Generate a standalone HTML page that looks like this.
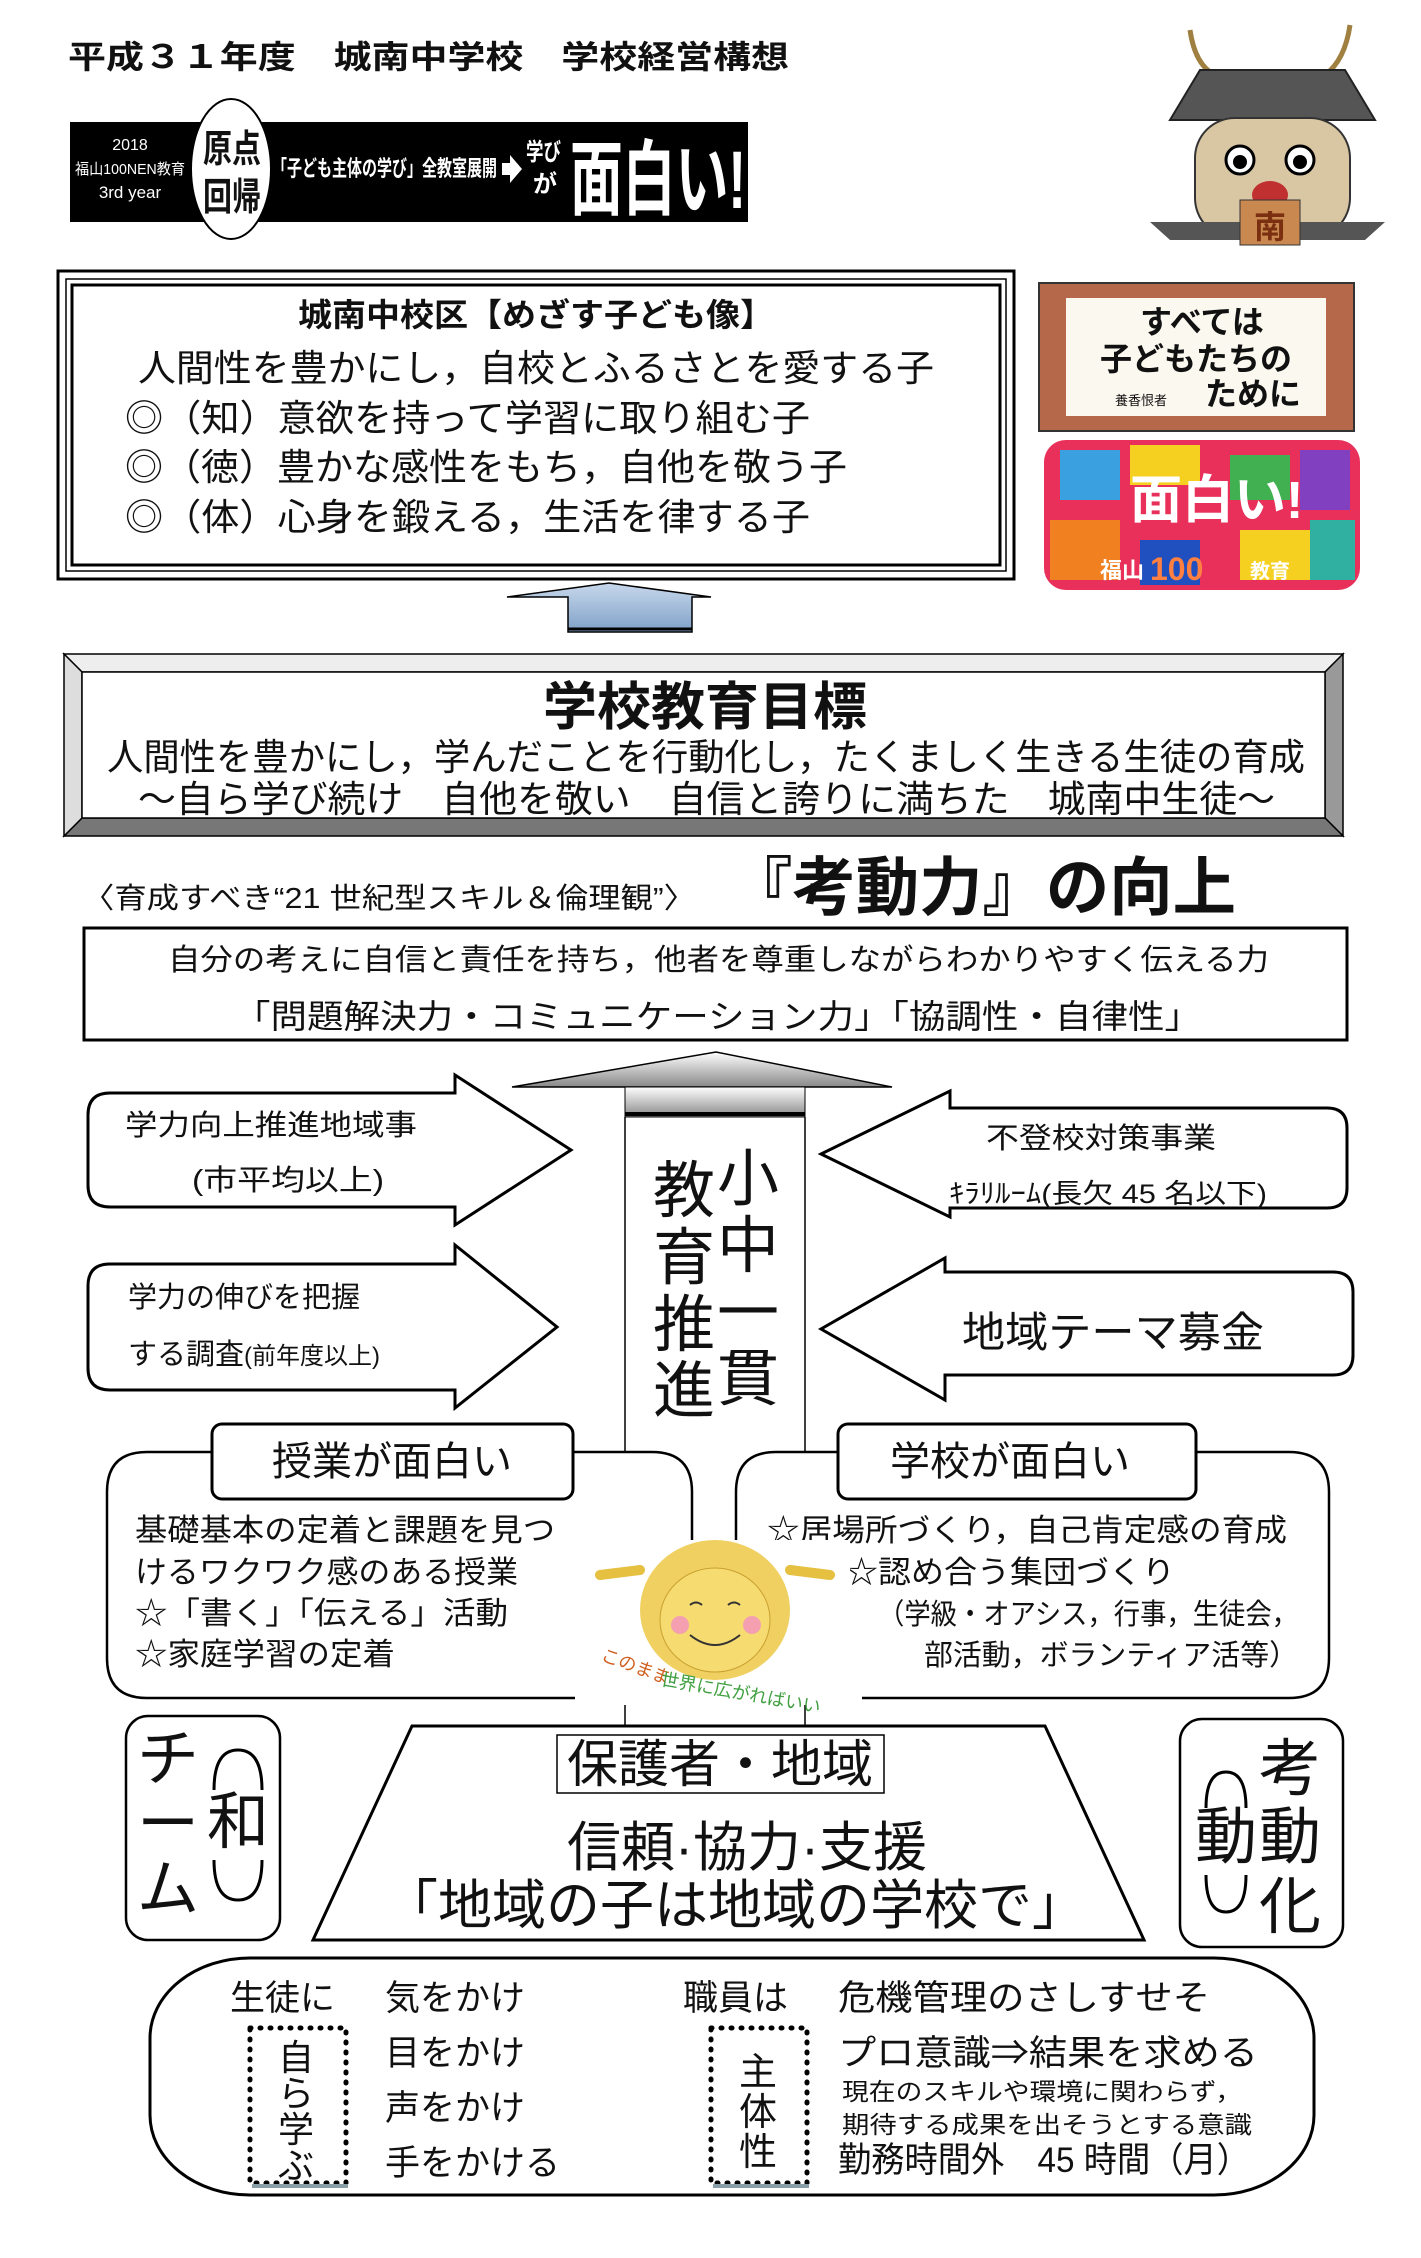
<!DOCTYPE html>
<html><head><meta charset="utf-8"><style>
html,body{margin:0;padding:0;background:#fff}
svg{display:block}
text{font-family:"Liberation Sans","Noto Sans CJK JP",sans-serif;fill:#111}
.b{font-weight:bold}
</style></head><body>
<svg width="1421" height="2258" viewBox="0 0 1421 2258" xmlns="http://www.w3.org/2000/svg">
<defs>
<linearGradient id="g1" x1="0" y1="0" x2="0" y2="1"><stop offset="0" stop-color="#c8d8ec"/><stop offset="1" stop-color="#7fa0c8"/></linearGradient>
<linearGradient id="g2" x1="0" y1="0" x2="0" y2="1"><stop offset="0" stop-color="#fff"/><stop offset="1" stop-color="#888"/></linearGradient>
</defs>
<rect width="1421" height="2258" fill="#fff"/>

<text x="68" y="68" font-size="32" class="b" textLength="721" lengthAdjust="spacingAndGlyphs">平成３１年度　城南中学校　学校経営構想</text>

<!-- Banner -->
<rect x="70" y="122" width="678" height="100" fill="#000"/>
<text x="130" y="150" font-size="16" style="fill:#fff" text-anchor="middle">2018</text>
<text x="130" y="174" font-size="15" style="fill:#fff" text-anchor="middle" textLength="110" lengthAdjust="spacingAndGlyphs">福山100NEN教育</text>
<text x="130" y="198" font-size="17" style="fill:#fff" text-anchor="middle">3rd year</text>
<ellipse cx="231" cy="169" rx="40" ry="70" fill="#fff" stroke="#000" stroke-width="2"/>
<text x="203" y="162" font-size="38" class="b" textLength="58" lengthAdjust="spacingAndGlyphs">原点</text>
<text x="203" y="210" font-size="38" class="b" textLength="58" lengthAdjust="spacingAndGlyphs">回帰</text>
<text x="272" y="176" font-size="22" class="b" style="fill:#fff" textLength="225" lengthAdjust="spacingAndGlyphs">「子ども主体の学び」全教室展開</text>
<polygon points="502,163 510,163 510,155 522,169 510,183 510,175 502,175" fill="#fff"/>
<text x="526" y="160" font-size="24" class="b" style="fill:#fff" textLength="35" lengthAdjust="spacingAndGlyphs">学び</text>
<text x="533" y="192" font-size="24" class="b" style="fill:#fff">が</text>
<text x="570" y="208" font-size="82" class="b" style="fill:#fff" textLength="176" lengthAdjust="spacingAndGlyphs">面白い!</text>

<!-- Character image (simplified) -->
<g>
<path d="M1190 30 Q1195 65 1215 75 M1350 25 Q1345 60 1325 75" stroke="#a08040" stroke-width="5" fill="none"/>
<polygon points="1200,70 1345,70 1375,120 1170,120" fill="#555" stroke="#222" stroke-width="2"/>
<rect x="1195" y="118" width="155" height="120" rx="40" fill="#d9c6a3" stroke="#333" stroke-width="2"/>
<circle cx="1240" cy="160" r="14" fill="#fff" stroke="#000" stroke-width="3"/><circle cx="1240" cy="162" r="7" fill="#000"/>
<circle cx="1300" cy="160" r="14" fill="#fff" stroke="#000" stroke-width="3"/><circle cx="1300" cy="162" r="7" fill="#000"/>
<ellipse cx="1270" cy="195" rx="18" ry="14" fill="#c03030"/>
<polygon points="1150,222 1385,222 1365,240 1170,240" fill="#555"/>
<rect x="1240" y="200" width="60" height="45" fill="#c88850" stroke="#333"/>
<text x="1270" y="238" font-size="32" text-anchor="middle" class="b" style="fill:#7a3010">南</text>
</g>

<!-- Box 1 -->
<rect x="58" y="271" width="956" height="308" fill="#fff" stroke="#000" stroke-width="3"/>
<rect x="66" y="279" width="940" height="292" fill="none" stroke="#000" stroke-width="1.5"/>
<rect x="72" y="285" width="928" height="280" fill="none" stroke="#000" stroke-width="3"/>
<text x="298" y="326" font-size="32" class="b" textLength="476" lengthAdjust="spacingAndGlyphs">城南中校区【めざす子ども像】</text>
<text x="138" y="381" font-size="37" textLength="796" lengthAdjust="spacingAndGlyphs">人間性を豊かにし，自校とふるさとを愛する子</text>
<text x="125" y="431" font-size="37" textLength="685" lengthAdjust="spacingAndGlyphs">◎（知）意欲を持って学習に取り組む子</text>
<text x="125" y="480" font-size="37" textLength="722" lengthAdjust="spacingAndGlyphs">◎（徳）豊かな感性をもち，自他を敬う子</text>
<text x="125" y="530" font-size="37" textLength="685" lengthAdjust="spacingAndGlyphs">◎（体）心身を鍛える，生活を律する子</text>

<!-- Sign -->
<rect x="1039" y="283" width="315" height="148" fill="#b5694a" stroke="#333" stroke-width="2"/>
<rect x="1066" y="298" width="260" height="118" fill="#fbf8ef"/>
<text x="1140" y="333" font-size="32" class="b">すべては</text>
<text x="1100" y="370" font-size="32" class="b">子どもたちの</text>
<text x="1115" y="405" font-size="13">養香恨者</text>
<text x="1205" y="405" font-size="32" class="b">ために</text>

<!-- Colorful -->
<rect x="1044" y="440" width="316" height="150" rx="22" fill="#e8305a"/>
<rect x="1060" y="450" width="60" height="50" fill="#3aa0e0"/><rect x="1130" y="445" width="70" height="40" fill="#f5d020"/>
<rect x="1230" y="455" width="60" height="45" fill="#40b050"/><rect x="1300" y="450" width="50" height="60" fill="#8040c0"/>
<rect x="1050" y="520" width="70" height="60" fill="#f08020"/><rect x="1140" y="540" width="60" height="45" fill="#2050c0"/>
<rect x="1240" y="530" width="70" height="50" fill="#f5d020"/><rect x="1310" y="520" width="45" height="60" fill="#30b0a0"/>
<text x="1130" y="518" font-size="52" class="b" style="fill:#fff">面白い!</text>
<text x="1100" y="578" font-size="22" class="b" style="fill:#fff">福山</text>
<text x="1150" y="580" font-size="32" class="b" style="fill:#ff8040">100</text>
<text x="1250" y="578" font-size="20" class="b" style="fill:#fff">教育</text>

<!-- up arrow 1 -->
<polygon points="507,597 609,583 711,597 692,597 692,632 568,632 568,597" fill="url(#g1)" stroke="#000" stroke-width="1.5"/>
<line x1="568" y1="629" x2="692" y2="629" stroke="#000" stroke-width="3"/>

<!-- Box 2 beveled -->
<polygon points="64,654 1343,654 1325,672 82,672" fill="#eee" stroke="#000" stroke-width="1.5"/>
<polygon points="1343,654 1343,836 1325,818 1325,672" fill="#999" stroke="#000" stroke-width="1.5"/>
<polygon points="64,836 1343,836 1325,818 82,818" fill="#777" stroke="#000" stroke-width="1.5"/>
<polygon points="64,654 82,672 82,818 64,836" fill="#ddd" stroke="#000" stroke-width="1.5"/>
<rect x="82" y="672" width="1243" height="146" fill="#fff" stroke="#000" stroke-width="1.5"/>
<text x="543" y="725" font-size="52" class="b" textLength="324" lengthAdjust="spacingAndGlyphs">学校教育目標</text>
<text x="107" y="770" font-size="37" textLength="1198" lengthAdjust="spacingAndGlyphs">人間性を豊かにし，学んだことを行動化し，たくましく生きる生徒の育成</text>
<text x="138" y="812" font-size="37" textLength="1137" lengthAdjust="spacingAndGlyphs">～自ら学び続け　自他を敬い　自信と誇りに満ちた　城南中生徒～</text>

<text x="82" y="908" font-size="29" textLength="614" lengthAdjust="spacingAndGlyphs">〈育成すべき“21 世紀型スキル＆倫理観”〉</text>
<text x="729" y="910" font-size="64" class="b" textLength="507" lengthAdjust="spacingAndGlyphs">『考動力』の向上</text>

<rect x="84" y="928" width="1263" height="112" fill="#fff" stroke="#000" stroke-width="3"/>
<text x="168" y="970" font-size="30" textLength="1101" lengthAdjust="spacingAndGlyphs">自分の考えに自信と責任を持ち，他者を尊重しながらわかりやすく伝える力</text>
<text x="234" y="1028" font-size="33" textLength="967" lengthAdjust="spacingAndGlyphs">「問題解決力・コミュニケーション力」「協調性・自律性」</text>

<!-- central column -->
<polygon points="512,1087 716,1052 892,1087" fill="url(#g2)" stroke="#000" stroke-width="1.5"/>
<rect x="625" y="1087" width="180" height="30" fill="url(#g2)" stroke="#000" stroke-width="1"/>
<line x1="625" y1="1114" x2="805" y2="1114" stroke="#000" stroke-width="4"/>
<line x1="625" y1="1117" x2="625" y2="1726" stroke="#000" stroke-width="1.5"/>
<line x1="805" y1="1117" x2="805" y2="1726" stroke="#000" stroke-width="1.5"/>
<g font-size="62">
<text x="748" y="1200" text-anchor="middle">小</text><text x="748" y="1267" text-anchor="middle">中</text>
<text x="748" y="1334" text-anchor="middle">一</text><text x="748" y="1400" text-anchor="middle">貫</text>
<text x="684" y="1212" text-anchor="middle">教</text><text x="684" y="1279" text-anchor="middle">育</text>
<text x="684" y="1346" text-anchor="middle">推</text><text x="684" y="1412" text-anchor="middle">進</text>
</g>

<!-- left arrows -->
<path d="M110,1093 L455,1093 L455,1075 L571,1150 L455,1225 L455,1207 L110,1207 Q88,1207 88,1185 L88,1115 Q88,1093 110,1093 Z" fill="#fff" stroke="#000" stroke-width="3"/>
<text x="125" y="1135" font-size="29" textLength="292" lengthAdjust="spacingAndGlyphs">学力向上推進地域事</text>
<text x="192" y="1190" font-size="29" textLength="192" lengthAdjust="spacingAndGlyphs">(市平均以上)</text>
<path d="M110,1264 L455,1264 L455,1245 L557,1327 L455,1408 L455,1390 L110,1390 Q88,1390 88,1368 L88,1286 Q88,1264 110,1264 Z" fill="#fff" stroke="#000" stroke-width="3"/>
<text x="128" y="1307" font-size="29">学力の伸びを把握</text>
<text x="128" y="1364" font-size="29">する調査<tspan font-size="24">(前年度以上)</tspan></text>

<!-- right arrows -->
<path d="M1327,1108 L950,1108 L950,1091 L821,1154 L950,1217 L950,1208 L1327,1208 Q1347,1208 1347,1188 L1347,1128 Q1347,1108 1327,1108 Z" fill="#fff" stroke="#000" stroke-width="3"/>
<text x="986" y="1148" font-size="29" textLength="230" lengthAdjust="spacingAndGlyphs">不登校対策事業</text>
<text x="949" y="1203" font-size="27" textLength="318" lengthAdjust="spacingAndGlyphs">ｷﾗﾘﾙｰﾑ(長欠 45 名以下)</text>
<path d="M1333,1272 L945,1272 L945,1258 L821,1329 L945,1400 L945,1375 L1333,1375 Q1353,1375 1353,1355 L1353,1292 Q1353,1272 1333,1272 Z" fill="#fff" stroke="#000" stroke-width="3"/>
<text x="962" y="1347" font-size="42" textLength="302" lengthAdjust="spacingAndGlyphs">地域テーマ募金</text>

<!-- lower rounded boxes -->
<path d="M575,1698 L147,1698 Q107,1698 107,1658 L107,1492 Q107,1452 147,1452 L652,1452 Q692,1452 692,1492 L692,1550" fill="#fff" stroke="#000" stroke-width="2.5"/>
<path d="M862,1698 L1289,1698 Q1329,1698 1329,1658 L1329,1492 Q1329,1452 1289,1452 L776,1452 Q736,1452 736,1492 L736,1550" fill="#fff" stroke="#000" stroke-width="2.5"/>
<rect x="212" y="1424" width="361" height="75" rx="10" fill="#fff" stroke="#000" stroke-width="3"/>
<text x="392" y="1475" font-size="40" text-anchor="middle">授業が面白い</text>
<rect x="838" y="1424" width="358" height="75" rx="10" fill="#fff" stroke="#000" stroke-width="3"/>
<text x="1010" y="1475" font-size="40" text-anchor="middle">学校が面白い</text>
<g font-size="31">
<text x="135" y="1541" textLength="420" lengthAdjust="spacingAndGlyphs">基礎基本の定着と課題を見つ</text>
<text x="135" y="1583" textLength="383" lengthAdjust="spacingAndGlyphs">けるワクワク感のある授業</text>
<text x="135" y="1624" textLength="373" lengthAdjust="spacingAndGlyphs">☆「書く」「伝える」活動</text>
<text x="135" y="1665" textLength="260" lengthAdjust="spacingAndGlyphs">☆家庭学習の定着</text>
<text x="767" y="1541" textLength="520" lengthAdjust="spacingAndGlyphs">☆居場所づくり，自己肯定感の育成</text>
<text x="845" y="1583" textLength="330" lengthAdjust="spacingAndGlyphs">☆認め合う集団づくり</text>
<text x="878" y="1624" font-size="29" textLength="420" lengthAdjust="spacingAndGlyphs">（学級・オアシス，行事，生徒会，</text>
<text x="924" y="1665" font-size="29" textLength="374" lengthAdjust="spacingAndGlyphs">部活動，ボランティア活等）</text>
</g>

<!-- girl -->
<rect x="580" y="1540" width="270" height="165" fill="#fff"/>
<path d="M640,1570 L600,1575 M790,1570 L830,1575" stroke="#e6c040" stroke-width="10" stroke-linecap="round"/>
<ellipse cx="715" cy="1610" rx="75" ry="70" fill="#f0d060"/>
<ellipse cx="715" cy="1620" rx="55" ry="52" fill="#f6dc70" stroke="#c8a030" stroke-width="1"/>
<path d="M690,1605 q6,-5 12,0 M728,1605 q6,-5 12,0 M690,1635 q25,20 50,0" stroke="#333" stroke-width="2" fill="none"/>
<circle cx="680" cy="1625" r="9" fill="#f4a0b0"/><circle cx="752" cy="1625" r="9" fill="#f4a0b0"/>
<text x="600" y="1660" font-size="18" style="fill:#d06020" transform="rotate(20 600 1660)">このまま</text>
<text x="660" y="1685" font-size="18" style="fill:#40a040" transform="rotate(10 660 1685)">世界に広がればいい</text>

<!-- trapezoid -->
<polygon points="412,1726 1045,1726 1144,1940 313,1940" fill="#fff" stroke="#000" stroke-width="3"/>
<rect x="557" y="1735" width="327" height="58" fill="#fff" stroke="#000" stroke-width="1.5"/>
<text x="720" y="1782" font-size="51" text-anchor="middle">保護者・地域</text>
<text x="747" y="1866" font-size="54" text-anchor="middle">信頼·協力·支援</text>
<text x="735" y="1924" font-size="54" text-anchor="middle">「地域の子は地域の学校で」</text>

<!-- side boxes -->
<rect x="126" y="1716" width="154" height="224" rx="22" fill="#fff" stroke="#000" stroke-width="2.5"/>
<g font-size="62">
<text x="168" y="1780" text-anchor="middle">チ</text>
<text x="168" y="1845" text-anchor="middle">ー</text>
<text x="168" y="1910" text-anchor="middle">ム</text>
<text x="238" y="1843" text-anchor="middle">和</text>
</g>
<path d="M214,1790 Q214,1750 238,1750 Q262,1750 262,1790" stroke="#000" stroke-width="3" fill="none"/>
<path d="M214,1860 Q214,1900 238,1900 Q262,1900 262,1860" stroke="#000" stroke-width="3" fill="none"/>
<rect x="1180" y="1719" width="163" height="228" rx="22" fill="#fff" stroke="#000" stroke-width="2.5"/>
<g font-size="62">
<text x="1290" y="1790" text-anchor="middle">考</text>
<text x="1290" y="1858" text-anchor="middle">動</text>
<text x="1290" y="1928" text-anchor="middle">化</text>
<text x="1226" y="1858" text-anchor="middle">動</text>
</g>
<path d="M1206,1808 Q1206,1772 1226,1772 Q1246,1772 1246,1808" stroke="#000" stroke-width="3" fill="none"/>
<path d="M1206,1875 Q1206,1912 1226,1912 Q1246,1912 1246,1875" stroke="#000" stroke-width="3" fill="none"/>

<!-- bottom oval -->
<rect x="150" y="1958" width="1164" height="237" rx="100" ry="80" fill="#fff" stroke="#000" stroke-width="3"/>
<g font-size="35" style="fill:#333">
<text x="230" y="2010">生徒に</text>
<text x="385" y="2010">気をかけ</text>
<text x="385" y="2065">目をかけ</text>
<text x="385" y="2120">声をかけ</text>
<text x="385" y="2175">手をかける</text>
<text x="683" y="2010">職員は</text>
<text x="838" y="2010" textLength="372" lengthAdjust="spacingAndGlyphs">危機管理のさしすせそ</text>
<text x="838" y="2065" textLength="420" lengthAdjust="spacingAndGlyphs">プロ意識⇒結果を求める</text>
<text x="838" y="2172" textLength="412" lengthAdjust="spacingAndGlyphs">勤務時間外　45 時間（月）</text>
</g>
<text x="842" y="2100" font-size="24" textLength="400" lengthAdjust="spacingAndGlyphs">現在のスキルや環境に関わらず，</text>
<text x="842" y="2133" font-size="24" textLength="410" lengthAdjust="spacingAndGlyphs">期待する成果を出そうとする意識</text>
<rect x="250" y="2028" width="96" height="155" fill="none" stroke="#000" stroke-width="5" stroke-dasharray="1 9" stroke-linecap="round"/>
<line x1="252" y1="2186" x2="348" y2="2186" stroke="#8aa0a8" stroke-width="4"/>
<g font-size="36" text-anchor="middle" style="fill:#333">
<text x="296" y="2070">自</text><text x="296" y="2106">ら</text><text x="296" y="2142">学</text><text x="296" y="2178">ぶ</text>
</g>
<rect x="711" y="2028" width="96" height="155" fill="none" stroke="#000" stroke-width="5" stroke-dasharray="1 9" stroke-linecap="round"/>
<line x1="713" y1="2186" x2="809" y2="2186" stroke="#8aa0a8" stroke-width="4"/>
<g font-size="38" text-anchor="middle" style="fill:#333">
<text x="758" y="2085">主</text><text x="758" y="2125">体</text><text x="758" y="2165">性</text>
</g>
</svg>
</body></html>
